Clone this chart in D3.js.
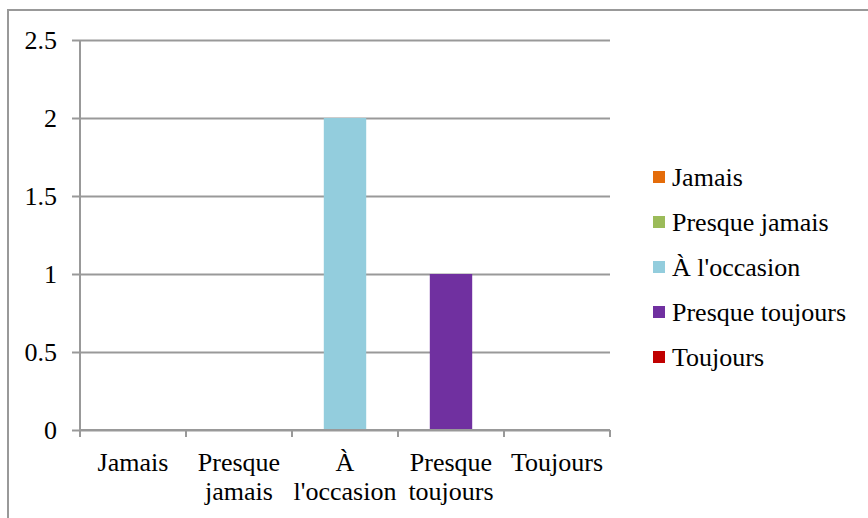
<!DOCTYPE html>
<html>
<head>
<meta charset="utf-8">
<script src="https://cdn.jsdelivr.net/npm/d3@7"></script>
<style>
  html, body { margin: 0; padding: 0; background: #fff; }
  svg { display: block; }
  text { font-family: "Liberation Serif", "Times New Roman", serif; fill: #000; }
</style>
</head>
<body>
<svg id="chart" width="868" height="518"></svg>
<script>
// Response categories and counts
const categories = ["Jamais", "Presque jamais", "À l'occasion", "Presque toujours", "Toujours"];
const axisLabels = [["Jamais"], ["Presque", "jamais"], ["À", "l'occasion"], ["Presque", "toujours"], ["Toujours"]];
const values = [0, 0, 2, 1, 0];
const colors = ["#E46C0A", "#9BBB59", "#93CDDD", "#7030A0", "#C00000"];
const yTicks = [0, 0.5, 1, 1.5, 2, 2.5];

const svg = d3.select("#chart");
const gridColor = "#999999";
const fontSize = 26;

// Outer frame
svg.append("rect")
  .attr("x", 8).attr("y", 10)
  .attr("width", 880).attr("height", 530)
  .attr("fill", "none")
  .attr("stroke", gridColor)
  .attr("stroke-width", 2);

const plot = { left: 80, right: 610, top: 40, bottom: 430 };

const x = d3.scaleBand()
  .domain(categories)
  .range([plot.left, plot.right])
  .paddingInner(0.6)
  .paddingOuter(0.3);

const xOuter = d3.scaleBand()
  .domain(categories)
  .range([plot.left, plot.right]);

const y = d3.scaleLinear()
  .domain([0, 2.5])
  .range([plot.bottom, plot.top]);

// Horizontal gridlines with left tick marks
const yAxis = d3.axisLeft(y)
  .tickValues(yTicks)
  .tickSize(-(plot.right - plot.left))
  .tickPadding(23)
  .tickFormat(d => String(d));

const gy = svg.append("g")
  .attr("transform", `translate(${plot.left},0)`)
  .call(yAxis);
gy.attr("font-family", null).attr("font-size", null);
gy.select(".domain").remove();
gy.selectAll(".tick line")
  .attr("x1", -8)
  .attr("stroke", gridColor)
  .attr("stroke-width", 2);
gy.selectAll(".tick text")
  .attr("font-size", fontSize)
  .attr("dy", "0.33em");

// Vertical axis line
svg.append("line")
  .attr("x1", plot.left).attr("x2", plot.left)
  .attr("y1", plot.top).attr("y2", plot.bottom + 7)
  .attr("stroke", gridColor)
  .attr("stroke-width", 2);

// Bars
svg.append("g")
  .selectAll("rect")
  .data(categories)
  .join("rect")
  .attr("x", d => x(d))
  .attr("width", x.bandwidth())
  .attr("y", (d, i) => y(values[i]))
  .attr("height", (d, i) => y(0) - y(values[i]))
  .attr("fill", (d, i) => colors[i]);

// Category axis: baseline and boundary ticks
svg.append("line")
  .attr("x1", plot.left).attr("x2", plot.right)
  .attr("y1", plot.bottom).attr("y2", plot.bottom)
  .attr("stroke", gridColor)
  .attr("stroke-width", 2);

const boundaries = categories.map(c => xOuter(c)).concat([plot.right]);
svg.append("g")
  .selectAll("line")
  .data(boundaries)
  .join("line")
  .attr("x1", d => d).attr("x2", d => d)
  .attr("y1", plot.bottom).attr("y2", plot.bottom + 7)
  .attr("stroke", gridColor)
  .attr("stroke-width", 2);

// Category labels (wrapped)
const xl = svg.append("g")
  .selectAll("text")
  .data(categories)
  .join("text")
  .attr("text-anchor", "middle")
  .attr("font-size", fontSize)
  .attr("x", d => xOuter(d) + xOuter.bandwidth() / 2)
  .attr("y", 471);
xl.each(function (d, i) {
  const t = d3.select(this);
  axisLabels[i].forEach((line, j) => {
    t.append("tspan")
      .attr("x", xOuter(d) + xOuter.bandwidth() / 2)
      .attr("dy", j === 0 ? 0 : 29)
      .text(line);
  });
});

// Legend
const legend = svg.append("g")
  .selectAll("g")
  .data(categories)
  .join("g")
  .attr("transform", (d, i) => `translate(653,${177 + i * 45})`);
legend.append("rect")
  .attr("x", 0).attr("y", -6)
  .attr("width", 12).attr("height", 12)
  .attr("fill", (d, i) => colors[i]);
legend.append("text")
  .attr("x", 19)
  .attr("y", 0)
  .attr("dy", "0.33em")
  .attr("font-size", fontSize)
  .text(d => d);
</script>
</body>
</html>
